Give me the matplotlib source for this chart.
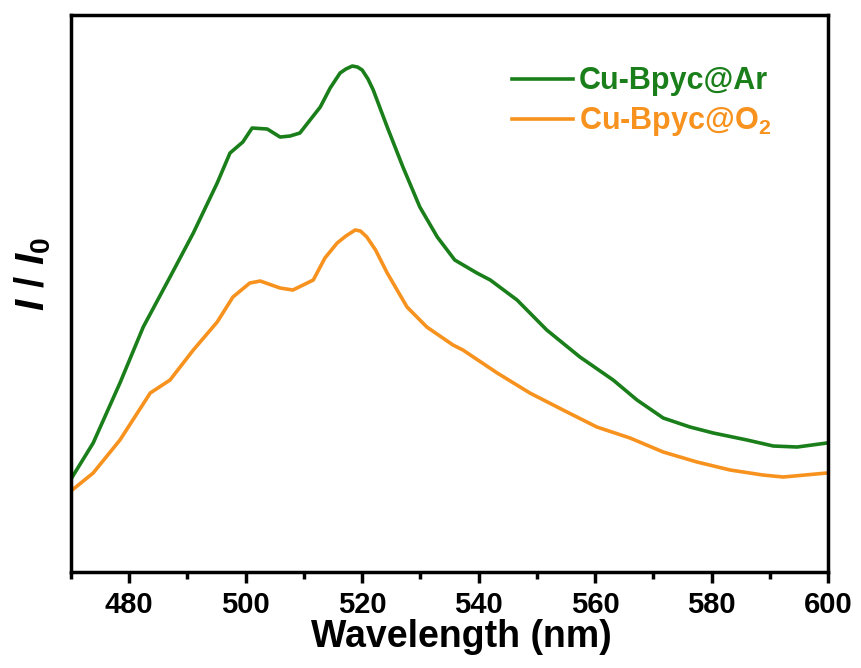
import matplotlib
matplotlib.use('Agg')
import matplotlib.pyplot as plt
from matplotlib.ticker import MultipleLocator

plt.rcParams['font.family'] = ['Liberation Sans', 'DejaVu Sans']
plt.rcParams['font.weight'] = 'bold'
plt.rcParams['mathtext.fontset'] = 'custom'
plt.rcParams['mathtext.rm'] = 'Liberation Sans:bold'
plt.rcParams['mathtext.bf'] = 'Liberation Sans:bold'
plt.rcParams['mathtext.it'] = 'Liberation Sans:italic:bold'

C_GREEN = '#1a7f1a'
C_ORANGE = '#f7921e'

# spectra (arbitrary intensity units)
ar_wl = [470.1, 473.8, 478.4, 482.4, 487.0, 491.0, 495.1, 497.3, 499.5, 501.1,
         503.7, 505.9, 507.6, 509.3, 512.8, 514.5, 516.2, 517.2, 518.3, 519.2,
         520.0, 521.0, 521.9, 524.3, 527.0, 529.9, 532.9, 535.9, 539.7, 542.0,
         546.6, 551.7, 557.4, 563.1, 567.2, 571.7, 576.3, 580.3, 586.1, 590.6,
         594.7, 599.8]
ar_int = [94, 129, 189, 245, 295, 339, 389, 419, 430, 444,
          443, 435, 436, 439, 465, 484, 499, 503, 506, 505,
          502, 493, 482, 445, 405, 365, 335, 312, 299, 292,
          272, 242, 215, 192, 172, 154, 145, 139, 132, 126,
          125, 129]

o2_wl = [470.2, 473.8, 478.4, 483.6, 487.0, 491.0, 495.1, 497.8, 500.7, 502.5,
         505.9, 508.1, 511.6, 513.6, 515.7, 517.2, 518.8, 519.7, 520.8, 522.3,
         524.3, 527.7, 531.1, 535.6, 537.3, 543.2, 548.8, 554.5, 560.3, 566.0,
         571.7, 577.5, 583.2, 588.8, 592.3, 599.8]
o2_int = [82, 99, 132, 179, 192, 222, 250, 275, 289, 291,
          284, 282, 292, 314, 329, 336, 342, 341, 335, 322,
          299, 265, 245, 227, 222, 199, 179, 162, 145, 134,
          120, 110, 102, 97, 95, 99]

labels = ['Cu-Bpyc@Ar', r'Cu-Bpyc@O$_\mathrm{2}$']

fig = plt.figure(figsize=(8.61, 6.68), dpi=100)
ax = fig.add_axes([0.0825, 0.1437, 0.8792, 0.8338])

ax.plot(ar_wl, ar_int, color=C_GREEN, lw=2.6, label=labels[0],
        solid_joinstyle='round')
ax.plot(o2_wl, o2_int, color=C_ORANGE, lw=2.6, label=labels[1],
        solid_joinstyle='round')

ax.set_xlim(470, 600)
ax.set_ylim(0, 557)
ax.xaxis.set_major_locator(MultipleLocator(20))
ax.xaxis.set_minor_locator(MultipleLocator(10))
ax.set_yticks([])
ax.tick_params(axis='x', which='major', direction='out', length=8, width=2.5,
               labelsize=21, pad=6)
ax.tick_params(axis='x', which='minor', direction='out', length=5, width=2.5)
for lab in ax.get_xticklabels():
    lab.set_fontweight('bold')
for s in ax.spines.values():
    s.set_linewidth(2.5)

ax.set_xlabel('Wavelength (nm)', fontsize=27, fontweight='bold')
ax.xaxis.set_label_coords(0.516, -0.084)
ax.set_ylabel(r'$I\ /\ I_0$', fontsize=29)
ax.yaxis.set_label_coords(-0.024, 0.535)

leg = ax.legend(loc='upper left', bbox_to_anchor=(0.582, 0.908), frameon=False,
                borderpad=0, borderaxespad=0, handlelength=2.0,
                handletextpad=0.2, labelspacing=0.3,
                prop={'size': 22, 'weight': 'bold'}, labelcolor='linecolor')

fig.savefig('out.png', dpi=100)
